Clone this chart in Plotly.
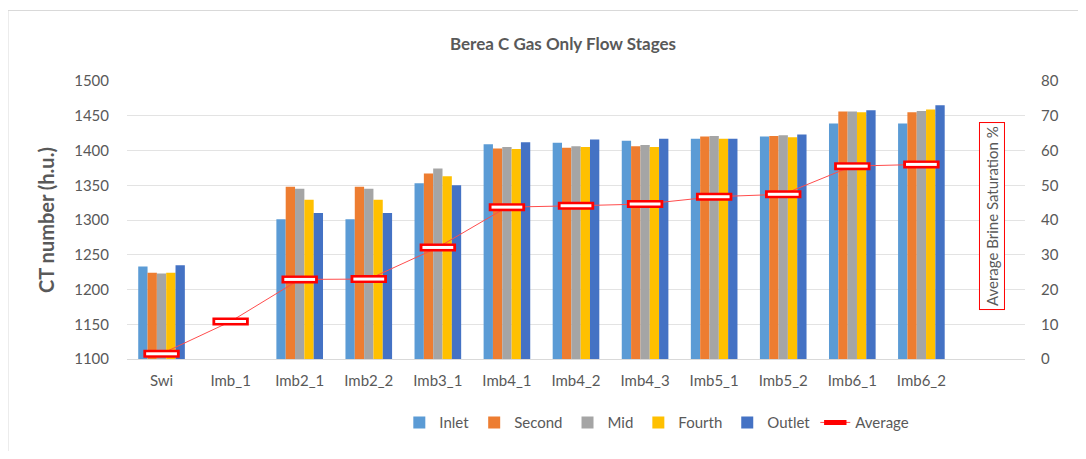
import plotly.graph_objects as go

stages = ["Swi", "Imb_1", "Imb2_1", "Imb2_2", "Imb3_1", "Imb4_1", "Imb4_2",
          "Imb4_3", "Imb5_1", "Imb5_2", "Imb6_1", "Imb6_2"]

inlet = [1233, None, 1301, 1301, 1353, 1409, 1411, 1414, 1417, 1420, 1439, 1439]
second = [1224, None, 1348, 1348, 1367, 1403, 1404, 1406, 1420, 1421, 1456, 1455]
mid = [1223, None, 1345, 1345, 1374, 1405, 1406, 1408, 1421, 1422, 1456, 1457]
fourth = [1224, None, 1329, 1329, 1363, 1402, 1405, 1405, 1417, 1419, 1455, 1459]
outlet = [1235, None, 1310, 1310, 1350, 1412, 1416, 1417, 1417, 1423, 1458, 1465]
average = [1.5, 10.8, 22.9, 23.0, 32.1, 43.7, 44.1, 44.6, 46.7, 47.4, 55.5, 56.0]

series = [
    ("Inlet", inlet, "#5B9BD5"),
    ("Second", second, "#ED7D31"),
    ("Mid", mid, "#A5A5A5"),
    ("Fourth", fourth, "#FFC000"),
    ("Outlet", outlet, "#4472C4"),
]

FONT = "Lato, Open Sans, sans-serif"
GREY = "#595959"

fig = go.Figure()

for name, vals, color in series:
    fig.add_trace(go.Bar(x=stages, y=vals, name=name, marker_color=color,
                         marker_line_width=0))

# average: red outlined bar-shaped markers, white centre
fig.add_trace(go.Scatter(
    x=stages, y=average, name="Average", yaxis="y2", mode="lines+markers",
    line=dict(color="#FF4D4D", width=1),
    marker=dict(symbol="line-ew", size=26, color="#FF0000",
                line=dict(color="#FF0000", width=8)),
))
fig.add_trace(go.Scatter(
    x=stages, y=average, yaxis="y2", mode="markers", showlegend=False,
    marker=dict(symbol="line-ew", size=22, color="white",
                line=dict(color="white", width=3)),
    hoverinfo="skip",
))

# page body has an 8px margin, so the figure is sized to fit inside it
fig.update_layout(
    width=1070, height=443,
    paper_bgcolor="white", plot_bgcolor="white",
    font=dict(family=FONT, size=15, color=GREY),
    margin=dict(l=119, r=53, t=73, b=90),
    barmode="group", bargap=0.325, bargroupgap=0,
    title=dict(text="<b>Berea C Gas Only Flow Stages</b>", xref="container",
               x=0.5187, xanchor="center", y=0.9187, yanchor="middle",
               font=dict(size=17, color=GREY, family=FONT)),
    legend=dict(orientation="h", x=0.59, xanchor="center", y=-0.229,
                yanchor="middle", font=dict(size=15, color=GREY),
                itemwidth=30, tracegroupgap=0),
    showlegend=True,
)

fig.update_xaxes(
    type="category", range=[-0.5, 12.5], showgrid=False,
    showline=True, linecolor="#D9D9D9", linewidth=1,
    ticks="outside", ticklen=8, tickcolor="rgba(0,0,0,0)",
    tickfont=dict(size=15, color=GREY),
)
fig.update_yaxes(
    range=[1100, 1500], dtick=50, showgrid=True, gridcolor="#E3E3E3",
    zeroline=False, ticks="outside", ticklen=14, tickcolor="rgba(0,0,0,0)",
    tickfont=dict(size=15, color=GREY),
    title=dict(text="<b>CT number (h.u.)</b>", font=dict(size=20, color=GREY),
               standoff=14),
)
fig.update_layout(yaxis2=dict(
    overlaying="y", side="right", range=[0, 80], dtick=10, showgrid=False,
    zeroline=False, ticks="outside", ticklen=12, tickcolor="rgba(0,0,0,0)",
    tickfont=dict(size=15, color=GREY),
))

fig.add_annotation(
    text="Average Brine Saturation %", textangle=-90, xref="paper", yref="paper",
    x=0.9627, y=0.5125, xanchor="center", yanchor="middle", showarrow=False,
    bgcolor="white", bordercolor="#FF0000", borderwidth=1, borderpad=3,
    font=dict(size=15, color=GREY, family=FONT),
)

# outer chart border
fig.add_shape(type="rect", xref="paper", yref="paper",
              x0=-0.1325, x1=1.1, y0=-0.4, y1=1.2536,
              line=dict(color="#D9D9D9", width=1), layer="below")

fig.write_html("out.html")
